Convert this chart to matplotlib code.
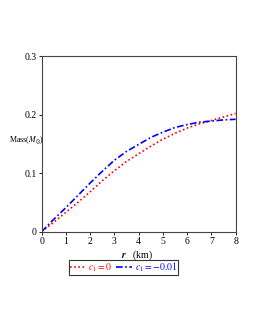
import matplotlib
matplotlib.use("Agg")
import matplotlib.pyplot as plt
import numpy as np

r = [0, 0.5, 1, 1.5, 2, 2.5, 3, 3.5, 4, 4.5, 5, 5.5, 6, 6.5, 7, 7.5, 8]
mass_c0 = [0, 0.016, 0.033, 0.050, 0.068, 0.087, 0.104, 0.120, 0.133, 0.146,
           0.158, 0.168, 0.177, 0.184, 0.190, 0.196, 0.202]
mass_c1 = [0, 0.021, 0.041, 0.062, 0.083, 0.103, 0.122, 0.137, 0.149, 0.161,
           0.170, 0.178, 0.183, 0.187, 0.189, 0.191, 0.192]
labels = [r"$c_1 = 0$", r"$c_1 = -0.01$"]
xticks = [0, 1, 2, 3, 4, 5, 6, 7, 8]
yticks = [0, 0.1, 0.2, 0.3]
yticklabels = ["0", "0.1", "0.2", "0.3"]

plt.rcParams['font.family'] = ['Liberation Serif', 'DejaVu Serif']
plt.rcParams['mathtext.fontset'] = 'stix'

fig = plt.figure(figsize=(2.55, 3.30), dpi=100)
ax = fig.add_axes([0.163, 0.298, 0.761, 0.532])
l1, = ax.plot(r, mass_c0, color='red', linestyle=(0, (1, 1.5)), linewidth=1.2, label=labels[0])
l2, = ax.plot(r, mass_c1, color='blue', linestyle=(0, (4, 1.5, 1, 1.5)), linewidth=1.2, label=labels[1])
ax.set_xlim(0, 8)
ax.set_ylim(0, 0.3)
ax.set_xticks(xticks)
ax.set_yticks(yticks)
ax.set_yticklabels(yticklabels)
ax.tick_params(axis='both', labelsize=7, length=2, width=0.6, direction='out', pad=1.5)
for s in ax.spines.values():
    s.set_linewidth(0.8)
    s.set_color('#444444')
fig.text(0.535, 0.228, r"$\boldsymbol{r}$   (km)", fontsize=7, ha='center', va='center')
fig.text(0.035, 0.575, r"Mass($M_{\odot}$)", fontsize=5.8, ha='left', va='center')
leg = fig.legend(handles=[l1, l2], labels=labels, loc='center', bbox_to_anchor=(0.484, 0.190),
                 ncol=2, fontsize=7, frameon=True, fancybox=False, handlelength=1.6,
                 handletextpad=0.3, columnspacing=0.4, borderpad=0.1, borderaxespad=0)
leg.get_frame().set_edgecolor('black')
leg.get_frame().set_linewidth(0.8)
for t, c in zip(leg.get_texts(), ['red', 'blue']):
    t.set_color(c)
fig.savefig('out.png', dpi=100)
